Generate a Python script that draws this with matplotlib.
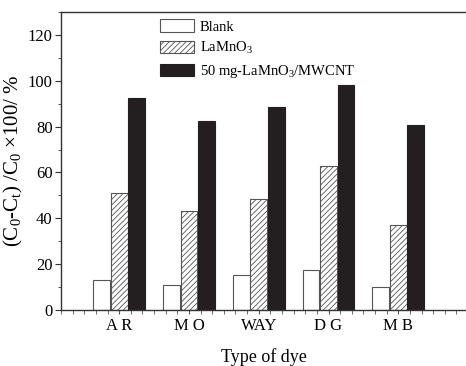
import matplotlib
matplotlib.use("Agg")
import matplotlib.pyplot as plt
from matplotlib.ticker import MultipleLocator

# dye removal efficiency (%)
dyes = ["A R", "M O", "WAY", "D G", "M B"]
blank = [13, 11, 15.4, 17.5, 10]
lamno3 = [51, 43, 48.6, 62.8, 37]
composite = [92.3, 82.5, 88.4, 98, 80.8]
series_labels = ["Blank", "LaMnO$_3$", "50 mg-LaMnO$_3$/MWCNT"]

plt.rcParams["font.family"] = ["Liberation Serif", "DejaVu Serif"]
plt.rcParams["mathtext.fontset"] = "custom"
plt.rcParams["mathtext.rm"] = "Liberation Serif"
plt.rcParams["mathtext.it"] = "Liberation Serif"
plt.rcParams["hatch.linewidth"] = 0.6
plt.rcParams["hatch.color"] = "#222222"

fig = plt.figure(figsize=(4.66, 3.66), dpi=100)
ax = fig.add_axes([0.131, 0.153, 0.869, 0.814])

x = list(range(len(dyes)))
w = 0.24
ax.bar([i - 0.25 for i in x], blank, w, color="white", edgecolor="#555555",
       linewidth=0.8, label=series_labels[0])
ax.bar(x, lamno3, w, color="white", edgecolor="#555555", hatch="//////",
       linewidth=0.8, label=series_labels[1])
ax.bar([i + 0.25 for i in x], composite, w, color="#231f20", edgecolor="#231f20",
       linewidth=0.8, label=series_labels[2])

ax.set_xlim(-5 / 6, 4.97)
ax.set_ylim(0, 130)
ax.set_xticks(x)
ax.set_xticklabels(dyes, fontsize=12)
ax.xaxis.set_minor_locator(MultipleLocator(1 / 6))
ax.set_yticks(range(0, 121, 20))
ax.yaxis.set_minor_locator(MultipleLocator(10))
ax.tick_params(axis="y", which="major", length=4, labelsize=12, pad=2, color="#333333")
ax.tick_params(axis="y", which="minor", length=2.5, color="#333333")
ax.tick_params(axis="x", which="both", length=3, color="#555555")
ax.tick_params(axis="x", which="major", pad=3)

ax.spines["right"].set_visible(False)
for s in ["left", "bottom", "top"]:
    ax.spines[s].set_color("#333333")
    ax.spines[s].set_linewidth(1.0)

ax.set_ylabel("(C$_0$-C$_t$) /C$_0$ ×100/ %", fontsize=15, labelpad=2)
ax.set_xlabel("Type of dye", fontsize=13, labelpad=10)

ax.legend(loc="upper left", bbox_to_anchor=(0.22, 1.01), frameon=False,
          fontsize=10.5, handlelength=2.3, handleheight=0.95,
          labelspacing=0.45, handletextpad=0.4, borderaxespad=0.3)

fig.savefig("out.png", dpi=100)
